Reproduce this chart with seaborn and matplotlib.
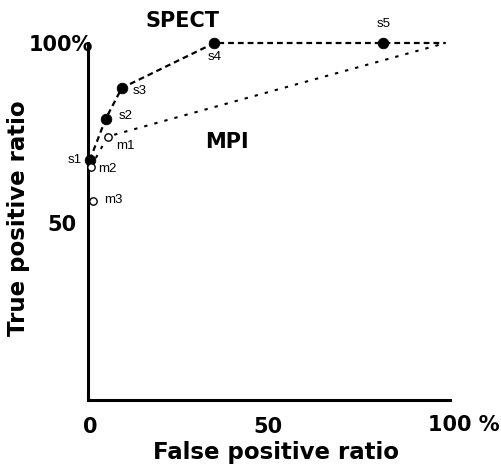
import pandas as pd
import matplotlib
matplotlib.use("Agg")
import matplotlib.pyplot as plt
import seaborn as sns

sns.set_theme(style="white", rc={"text.color": "black", "xtick.color": "black",
                                 "ytick.color": "black", "axes.labelcolor": "black"})
plt.rcParams['font.family'] = ['DejaVu Sans']

# SPECT operating points (false positive %, true positive %)
spect_labels = ["s1", "s2", "s3", "s4", "s5"]
spect_fp = [0.0, 4.5, 9.0, 35.0, 82.5]
spect_tp = [67.5, 79.0, 87.5, 100.0, 100.0]

# MPI operating points
mpi_labels = ["m1", "m2", "m3"]
mpi_fp = [5.0, 0.3, 1.0]
mpi_tp = [74.0, 65.5, 56.0]

# curve end point
end_fp = 100.0
end_tp = 100.0

spect_df = pd.DataFrame({"fp": spect_fp, "tp": spect_tp, "label": spect_labels})
mpi_df = pd.DataFrame({"fp": mpi_fp, "tp": mpi_tp, "label": mpi_labels})

spect_line = pd.DataFrame({"fp": spect_fp + [end_fp], "tp": spect_tp + [end_tp]})
mpi_line = pd.DataFrame({"fp": [mpi_fp[1], mpi_fp[0], end_fp],
                         "tp": [mpi_tp[1], mpi_tp[0], end_tp]})

fig = plt.figure(figsize=(5.02, 4.69), dpi=100)
ax = fig.add_axes([88 / 502, 69 / 469, 362 / 502, 357 / 469])

sns.lineplot(data=spect_line, x="fp", y="tp", sort=False, ax=ax, color="black",
             linewidth=1.6, linestyle=(0, (2.6, 1.8)))
sns.lineplot(data=mpi_line, x="fp", y="tp", sort=False, ax=ax, color="black",
             linewidth=1.5, linestyle=(0, (1.6, 3.4)))
sns.scatterplot(data=spect_df, x="fp", y="tp", ax=ax, color="black", s=58,
                edgecolor="black", zorder=5)
sns.scatterplot(data=mpi_df, x="fp", y="tp", ax=ax, color="white", s=28,
                edgecolor="black", linewidth=1.0, zorder=5)
for art in ax.lines + ax.collections:
    art.set_clip_on(False)

ax.set_xlim(-0.5, 101.2)
ax.set_ylim(0.8, 100)
for s in ["top", "right"]:
    ax.spines[s].set_visible(False)
for s in ["left", "bottom"]:
    ax.spines[s].set_linewidth(2.2)
    ax.spines[s].set_color("black")

ax.set_xticks([0, 50])
ax.set_xticklabels(["0", "50"])
ax.set_yticks([50])
ax.set_yticklabels(["50"])
ax.tick_params(axis="both", which="both", direction="out", length=5, width=1.5,
               colors="black", labelsize=15)
ax.tick_params(axis="x", pad=7.5)
ax.tick_params(axis="y", pad=3)
for t in ax.get_xticklabels() + ax.get_yticklabels():
    t.set_fontweight("bold")
ax.set_xlabel("")
ax.set_ylabel("")

fig.text(500 / 502, 1 - 425 / 469, "100 %", ha="right", va="center",
         fontsize=15, fontweight="bold")
fig.text(93 / 502, 1 - 45 / 469, "100%", ha="right", va="center",
         fontsize=15, fontweight="bold")
fig.text(276 / 502, 1 - 452 / 469, "False positive ratio", ha="center", va="center",
         fontsize=16.5, fontweight="bold")
fig.text(19 / 502, 1 - 218 / 469, "True positive ratio", ha="center", va="center",
         rotation=90, fontsize=16.5, fontweight="bold")

ax.text(26, 106, "SPECT", ha="center", va="center", fontsize=15,
        fontweight="bold", clip_on=False)
ax.text(38.5, 72.5, "MPI", ha="center", va="center", fontsize=15, fontweight="bold")

# point labels: offsets in points
offsets = {"s1": (-11, 0, "center"), "s2": (9, 2, "left"), "s3": (8, -2, "left"),
           "s4": (0, -10, "center"), "s5": (0, 14, "center"),
           "m1": (6, -7, "left"), "m2": (5, -1, "left"), "m3": (8, 1, "left")}
for lab, x, y in list(zip(spect_labels, spect_fp, spect_tp)) + list(zip(mpi_labels, mpi_fp, mpi_tp)):
    dx, dy, ha = offsets[lab]
    ax.annotate(lab, (x, y), xytext=(dx, dy), textcoords="offset points",
                ha=ha, va="center", fontsize=9.5,
                family=["Liberation Sans Narrow", "Liberation Sans", "DejaVu Sans"],
                annotation_clip=False)

fig.savefig("out.png", dpi=100)
